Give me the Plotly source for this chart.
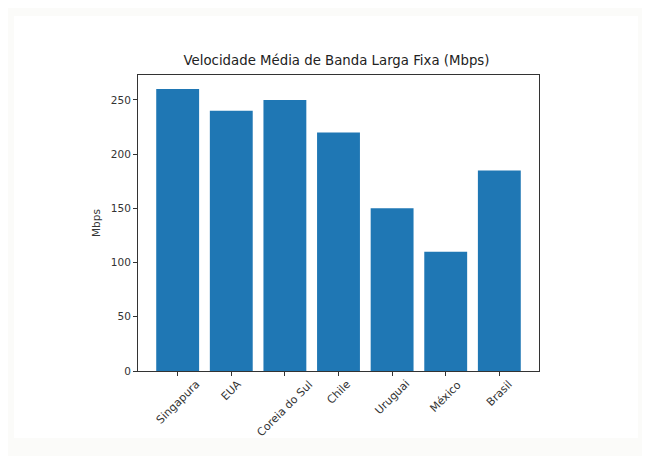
import plotly.graph_objects as go

countries = ["Singapura", "EUA", "Coreia do Sul", "Chile", "Uruguai", "México", "Brasil"]
speeds = [260, 240, 250, 220, 150, 110, 185]
y_ticks = [0, 50, 100, 150, 200, 250]

FONT = "DejaVu Sans"
OFF = 8  # page body margin
W, H = 650 - OFF, 456 - OFF
L, R, T, B = 138 - OFF, 111, 75 - OFF, 85
PW, PH = W - L - R, H - T - B

fig = go.Figure()
fig.add_trace(go.Bar(
    x=list(range(len(countries))), y=speeds, width=0.8,
    marker=dict(color="#1f77b4", line=dict(width=0)),
))

for i, c in enumerate(countries):
    fig.add_annotation(
        x=i, y=0, xref="x", yref="paper", text=c, showarrow=False,
        textangle=-45, xanchor="center", yanchor="top", yshift=-4,
        font=dict(family=FONT, size=11, color="#333"),
    )

fig.add_shape(type="rect", xref="paper", yref="paper", layer="below",
              x0=-(L - (14 - OFF)) / PW, x1=(638 - OFF - L) / PW,
              y0=-(438 - 371) / PH, y1=(371 - 16) / PH,
              fillcolor="white", line=dict(width=0))

fig.update_layout(
    width=W, height=H,
    margin=dict(l=L, r=R, t=T, b=B),
    paper_bgcolor="#fbfbf9", plot_bgcolor="white",
    showlegend=False,
    title=dict(text="Velocidade Média de Banda Larga Fixa (Mbps)", x=(336.5 - OFF) / W,
               xanchor="center", y=1 - (60 - OFF) / H, yanchor="middle",
               font=dict(family=FONT, size=13.3, color="#222")),
    xaxis=dict(range=[-0.74, 6.74], tickvals=list(range(len(countries))), ticktext=[""] * len(countries),
               ticks="outside", ticklen=4, tickcolor="#333", showgrid=False, zeroline=False,
               showline=True, linecolor="#333", linewidth=1, mirror=True),
    yaxis=dict(range=[0, 273], tickvals=y_ticks, ticks="outside", ticklen=4, tickcolor="#333",
               showgrid=False, zeroline=False, showline=True, linecolor="#333", linewidth=1, mirror=True,
               tickfont=dict(family=FONT, size=10.5, color="#333"),
               title=dict(text="Mbps", font=dict(family=FONT, size=10.5, color="#333"), standoff=8)),
)

fig.write_html("out.html")
